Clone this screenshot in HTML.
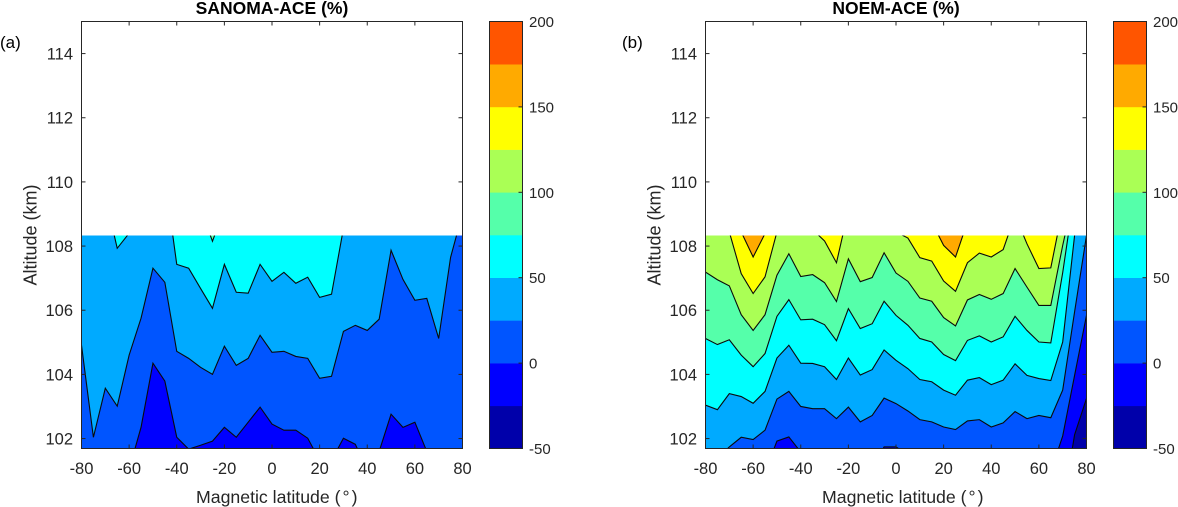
<!DOCTYPE html>
<html>
<head>
<meta charset="utf-8">
<title>SANOMA-ACE and NOEM-ACE</title>
<style>
html,body{margin:0;padding:0;background:#fff;width:1178px;height:507px;overflow:hidden}
svg{display:block}
text{font-family:"Liberation Sans",Arial,sans-serif;fill:#262626}
</style>
</head>
<body>
<svg id="chart" width="1178" height="507" viewBox="0 0 1178 507" xmlns="http://www.w3.org/2000/svg"></svg>
<script>
const latitudes = [-80,-75,-70,-65,-60,-55,-50,-45,-40,-35,-30,-25,-20,-15,-10,-5,0,5,10,15,20,25,30,35,40,45,50,55,60,65,70,75,80];
const xTickLabels = [-80,-60,-40,-20,0,20,40,60,80];
const yTickLabels = [102,104,106,108,110,112,114];
const colorbarTickLabels = [-50,0,50,100,150,200];
const bandLevels = [-50,-25,0,25,50,75,100,125,150,175,200];
const bandColors = ["#0000AA","#0000FF","#0055FF","#00AAFF","#00FFFF","#55FFAA","#AAFF55","#FFFF00","#FFAA00","#FF5500"];
const altitudeTop = 108.33;

const sanomaLevel0 = [100.7,100.7,100.7,100.7,101.04,102.35,104.35,103.79,102.04,101.67,101.79,101.92,102.35,102.04,102.51,102.98,102.45,102.26,102.26,102.01,101.32,101.32,102.01,101.82,101.01,101.6,102.76,102.35,102.51,101.6,101.01,101.01,101.01];
const sanomaLevel25 = [104.91,102.04,103.57,103.01,104.6,105.75,107.31,106.87,104.72,104.5,104.22,104,104.88,104.28,104.5,105.22,104.69,104.72,104.56,104.5,103.88,103.94,105.34,105.53,105.37,105.72,107.87,106.96,106.31,106.37,105.12,107.65,109.02];
const sanomaLevel50 = [110.05,110.05,109.55,107.93,108.4,110,110,110.14,107.43,107.31,106.68,106.06,107.43,106.56,106.53,107.43,106.9,107.18,106.84,107.03,106.4,106.5,108.55,110,110,110,110,110,110,110,110,110,110];
const sanomaLevel75 = [109.5,109.5,109.5,109.5,109.5,109.5,109.5,109.5,109.5,109.5,109.17,108.15,109.17,109.5,109.5,109.5,109.5,109.5,109.5,109.5,109.5,109.5,109.5,109.5,109.5,109.5,109.5,109.5,109.5,109.5,109.5,109.5,109.5];

const noemLevelM25 = [99.9,99.9,99.9,99.9,99.9,99.9,99.9,99.9,99.9,99.9,99.9,99.9,99.9,99.9,99.9,99.9,99.9,99.9,99.9,99.9,99.9,99.9,99.9,99.9,99.9,99.9,99.9,99.9,99.9,99.9,99.88,102.12,103.25];
const noemLevel0 = [100.5,100.5,100.5,100.5,100.5,100.96,101.92,102.05,101.58,101,101,101,101,101,101,101.74,101.74,101.5,101,101,101,101,101,101,101,101,101,101,101,100.96,102.08,103.97,105.84];
const noemLevel25 = [101.07,101.38,101.74,102.04,101.97,102.26,103.23,103.47,103,102.93,102.93,102.62,102.98,102.52,102.72,103.26,103.09,102.86,102.59,102.52,102.36,102.28,102.55,102.59,102.36,102.49,102.84,102.62,102.72,102.65,103.51,105.95,108.33];
const noemLevel50 = [103.04,102.9,103.4,103.31,103.1,103.47,104.51,104.91,104.35,104.34,104.24,103.84,104.51,103.98,104.15,104.76,104.44,104.18,103.84,103.77,103.51,103.35,103.82,103.9,103.68,103.82,104.33,103.97,103.87,103.81,105.01,108.33,110];
const noemLevel75 = [105.12,104.93,105.08,104.6,104.24,104.65,105.81,106.33,105.7,105.72,105.55,105.05,106.05,105.43,105.58,106.28,105.84,105.53,105.12,105.01,104.62,104.43,105.06,105.2,105.01,105.17,105.81,105.37,105.01,104.98,107.17,109.68,111.76];
const noemLevel100 = [107.19,106.95,106.76,105.86,105.37,105.86,107.09,107.76,107.05,107.11,106.86,106.27,107.6,106.89,107.02,107.79,107.16,106.9,106.38,106.28,105.77,105.51,106.32,106.49,106.34,106.52,107.3,106.72,106.15,106.15,108.02,109.68,111.76];
const noemLevel125 = [109.17,109.17,108.44,107.14,106.52,107.04,108.44,109.17,109.17,108.51,108.16,107.48,109.11,109.17,109.17,109.17,108.44,108.25,107.64,107.53,106.91,106.59,107.48,107.78,107.66,107.89,108.96,108.07,107.3,107.32,109.17,111.76,111.76];
const noemLevel150 = [109.17,109.17,109.17,108.44,107.66,108.39,109.17,109.17,109.17,109.17,109.17,109.17,109.17,109.17,109.17,109.17,109.17,109.17,109.17,108.75,108.02,107.66,108.75,109.17,109.17,109.17,109.17,109.17,109.17,109.17,109.17,109.17,109.17];

const sanomaContours = [
  {level:0, values:sanomaLevel0},
  {level:25, values:sanomaLevel25},
  {level:50, values:sanomaLevel50},
  {level:75, values:sanomaLevel75}
];
const noemContours = [
  {level:-25, values:noemLevelM25},
  {level:0, values:noemLevel0},
  {level:25, values:noemLevel25},
  {level:50, values:noemLevel50},
  {level:75, values:noemLevel75},
  {level:100, values:noemLevel100},
  {level:125, values:noemLevel125},
  {level:150, values:noemLevel150}
];

const svg = document.getElementById('chart');
const NS = 'http://www.w3.org/2000/svg';
const axisColor = '#262626';

function make(tag, attrs, parent){
  const el = document.createElementNS(NS, tag);
  for (const k in attrs) el.setAttribute(k, attrs[k]);
  (parent || svg).appendChild(el);
  return el;
}

function colorAbove(level){
  return bandColors[bandLevels.indexOf(level)];
}

function drawPanel(o){
  const X = v => o.left + (v + 80) / 160 * (o.right - o.left);
  const Y = v => o.bottom - (v - 101.69) / (115 - 101.69) * (o.bottom - o.top);
  const group = make('g', {});
  
  

  const clipId = o.id + '-clip';
  const defs = make('defs', {}, group);
  const clip = make('clipPath', {id: clipId}, defs);
  make('rect', {x: X(-80), y: Y(altitudeTop), width: X(80) - X(-80), height: Y(101.69) - Y(altitudeTop)}, clip);

  const plotBackground = make('rect', {x: o.left, y: o.top, width: o.right - o.left, height: o.bottom - o.top, fill: '#fff'}, group);
  
  

  const fills = make('g', {'clip-path': 'url(#' + clipId + ')'}, group);
  
  

  const base = make('rect', {x: X(-80), y: Y(altitudeTop), width: X(80) - X(-80), height: Y(101.69) - Y(altitudeTop), fill: o.baseColor}, fills);
  
  

  o.contours.forEach(c => {
    const pts = latitudes.map((lat, i) => X(lat).toFixed(2) + ',' + Y(c.values[i]).toFixed(2));
    const poly = make('polygon', {
      points: pts.join(' ') + ' ' + X(80).toFixed(2) + ',' + Y(115) + ' ' + X(-80).toFixed(2) + ',' + Y(115),
      fill: colorAbove(c.level)
    }, fills);
    
    
  });
  o.contours.forEach(c => {
    const pts = latitudes.map((lat, i) => X(lat).toFixed(2) + ',' + Y(c.values[i]).toFixed(2));
    const line = make('polyline', {points: pts.join(' '), fill: 'none', stroke: '#0a0a0a', 'stroke-width': 1.1, 'stroke-linejoin': 'miter'}, fills);
    
    
  });

  const frame = make('rect', {x: o.left, y: o.top, width: o.right - o.left, height: o.bottom - o.top, fill: 'none', stroke: axisColor, 'stroke-width': 1}, group);
  
  

  xTickLabels.forEach(v => {
    const x = X(v);
    const tickB = make('line', {x1: x, x2: x, y1: o.bottom, y2: o.bottom - 4, stroke: axisColor}, group);
    
    
    const tickT = make('line', {x1: x, x2: x, y1: o.top, y2: o.top + 4, stroke: axisColor}, group);
    
    
    const label = make('text', {x: x, y: 474, 'font-size': 16.5, 'text-anchor': 'middle'}, group);
    
    
    label.textContent = v;
  });
  yTickLabels.forEach(v => {
    const y = Y(v);
    const tickL = make('line', {x1: o.left, x2: o.left + 4, y1: y, y2: y, stroke: axisColor}, group);
    
    
    const tickR = make('line', {x1: o.right, x2: o.right - 4, y1: y, y2: y, stroke: axisColor}, group);
    
    
    const label = make('text', {x: o.left - 8.5, y: y + 6, 'font-size': 16.5, 'text-anchor': 'end'}, group);
    
    
    label.textContent = v;
  });

  const title = make('text', {x: (o.left + o.right) / 2, y: 14, 'font-size': 17.5, 'font-weight': 'bold', 'text-anchor': 'middle', style: 'fill:#000'}, group);
  
  
  title.textContent = o.title;

  const xTitle = make('text', {x: o.xTitleX, y: 503, 'font-size': 17.7}, group);
  
  
  xTitle.appendChild(document.createTextNode('Magnetic latitude ('));
  const degree = make('tspan', {dx: 2}, xTitle);
  degree.textContent = '\u00B0';
  const closeParen = make('tspan', {dx: 2}, xTitle);
  closeParen.textContent = ')';

  const yTitle = make('text', {x: 0, y: 0, 'font-size': 18, 'text-anchor': 'middle', transform: 'translate(' + (o.left - 45) + ',235) rotate(-90)'}, group);
  
  
  yTitle.textContent = 'Altitude (km)';

  const tag = make('text', {x: o.tagX, y: 48, 'font-size': 17, style: 'fill:#000'}, group);
  
  
  tag.textContent = o.tag;

  const CY = v => o.bottom - (v + 50) / 250 * (o.bottom - o.top);
  const bar = make('g', {}, group);
  
  
  bandColors.forEach((color, i) => {
    const seg = make('rect', {x: o.barLeft, y: CY(bandLevels[i + 1]), width: o.barRight - o.barLeft, height: CY(bandLevels[i]) - CY(bandLevels[i + 1]) + 0.3, fill: color}, bar);
    
    
  });
  const barFrame = make('rect', {x: o.barLeft, y: o.top, width: o.barRight - o.barLeft, height: o.bottom - o.top, fill: 'none', stroke: axisColor}, bar);
  
  
  colorbarTickLabels.forEach(v => {
    const y = CY(v);
    const tick = make('line', {x1: o.barRight - 4, x2: o.barRight, y1: y, y2: y, stroke: axisColor}, bar);
    
    
    const label = make('text', {x: o.barRight + 6.5, y: y + 5.5, 'font-size': 15}, bar);
    
    
    label.textContent = v;
  });
}

drawPanel({id:'sanoma', title:'SANOMA-ACE (%)', tag:'(a)', tagX:0, xTitleX:196, left:81.5, right:462.5, top:21.5, bottom:448.5, barLeft:489.5, barRight:522.5, baseColor:'#0000FF', contours:sanomaContours});
drawPanel({id:'noem', title:'NOEM-ACE (%)', tag:'(b)', tagX:622, xTitleX:822, left:705.5, right:1086.5, top:21.5, bottom:448.5, barLeft:1113.5, barRight:1146.5, baseColor:'#0000AA', contours:noemContours});
</script>
</body>
</html>
